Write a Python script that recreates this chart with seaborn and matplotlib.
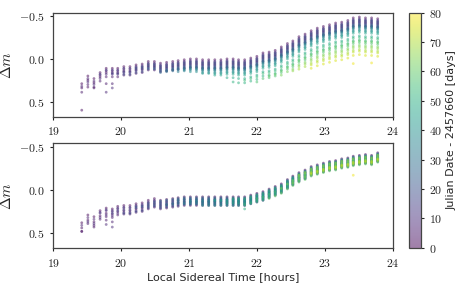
import matplotlib
matplotlib.use("Agg")
import matplotlib.pyplot as plt
import pandas as pd
import seaborn as sns

# LST columns [hours]
lst = [19.42, 19.51, 19.60, 19.69, 19.78, 19.87, 19.95, 20.04, 20.13, 20.22,
       20.31, 20.40, 20.49, 20.58, 20.67, 20.76, 20.84, 20.93, 21.02, 21.11,
       21.20, 21.29, 21.38, 21.47, 21.56, 21.65, 21.73, 21.82, 21.91, 22.00,
       22.09, 22.18, 22.27, 22.36, 22.45, 22.53, 22.62, 22.71, 22.80, 22.89,
       22.98, 23.07, 23.16, 23.25, 23.34, 23.42, 23.51, 23.60, 23.69, 23.78]

# upper edge of each column, raw magnitudes (top panel)
top_base = [0.29, 0.20, 0.23, 0.16, 0.11, 0.11, 0.11, 0.09, 0.09, 0.07,
            0.06, 0.03, 0.03, 0.05, 0.04, 0.03, 0.02, 0.01, 0.00, 0.00,
            0.01, 0.01, 0.01, 0.01, 0.00, 0.00, 0.01, 0.01, -0.01, -0.03,
            -0.07, -0.08, -0.10, -0.14, -0.18, -0.21, -0.26, -0.29, -0.33, -0.36,
            -0.38, -0.40, -0.42, -0.43, -0.45, -0.48, -0.49, -0.48, -0.48, -0.47]

# upper edge of each column after zero-point correction (bottom panel)
bot_base = [0.38, 0.29, 0.31, 0.24, 0.21, 0.22, 0.19, 0.18, 0.18, 0.16,
            0.15, 0.12, 0.10, 0.12, 0.11, 0.10, 0.09, 0.08, 0.08, 0.08,
            0.08, 0.08, 0.08, 0.08, 0.08, 0.08, 0.08, 0.08, 0.06, 0.04,
            0.02, -0.01, -0.04, -0.07, -0.12, -0.16, -0.20, -0.23, -0.27, -0.29,
            -0.31, -0.33, -0.34, -0.36, -0.37, -0.39, -0.40, -0.41, -0.40, -0.43]

# nights: day since JD 2457660, first LST observed, zero-point shift, residual
night_day = [1, 3, 5, 7, 9, 12, 15, 18, 21, 24, 27, 30, 33, 36,
             39, 42, 45, 48, 51, 54, 57, 60, 63, 66, 69, 72, 75]
night_start = [19.42, 19.42, 19.42, 19.42, 19.51, 19.69, 19.87, 20.04, 20.22, 20.40,
               20.58, 20.67, 20.84, 20.93, 21.02, 21.20, 21.38, 21.56, 21.65, 21.82,
               22.00, 22.18, 22.36, 22.53, 22.62, 22.80, 22.80]
night_shift = [0.00, 0.05, 0.10, 0.03, 0.07, 0.02, 0.06, 0.09, 0.04, 0.08,
               0.11, 0.10, 0.13, 0.12, 0.15, 0.16, 0.18, 0.22, 0.27, 0.24,
               0.30, 0.28, 0.33, 0.35, 0.38, 0.40, 0.44]
night_resid = [0.00, 0.06, 0.10, 0.03, 0.08, 0.02, 0.05, 0.09, 0.04, 0.07,
               0.01, 0.06, 0.03, 0.08, 0.05, 0.10, 0.04, 0.07, 0.02, 0.09,
               0.06, 0.11, 0.05, 0.08, 0.03, 0.09, 0.07]

# odd points that don't follow a night pattern
top_extra_lst = [19.42, 19.51, 19.60, 19.78, 19.78, 19.87, 19.87, 23.42, 23.69]
top_extra_dm = [0.60, 0.33, 0.34, 0.29, 0.39, 0.29, 0.34, 0.055, 0.047]
top_extra_day = [2, 3, 4, 5, 8, 6, 9, 78, 78]
bot_extra_lst = [19.42, 19.60, 19.78, 19.78, 19.87, 19.87, 23.42, 21.82]
bot_extra_dm = [0.48, 0.43, 0.35, 0.40, 0.37, 0.43, -0.17, 0.22]
bot_extra_day = [2, 4, 5, 8, 6, 9, 78, 50]

rows_top, rows_bot = [], []
for k, day in enumerate(night_day):
    for i, t in enumerate(lst):
        if t >= night_start[k] - 0.001:
            rows_top.append((t, top_base[i] + night_shift[k], day))
            rows_bot.append((t, bot_base[i] + night_resid[k], day))
rows_top += list(zip(top_extra_lst, top_extra_dm, top_extra_day))
rows_bot += list(zip(bot_extra_lst, bot_extra_dm, bot_extra_day))
df_top = pd.DataFrame(rows_top, columns=["lst", "dm", "day"])
df_bot = pd.DataFrame(rows_bot, columns=["lst", "dm", "day"])

sns.set_style("ticks")
plt.rcParams["font.family"] = ["DejaVu Sans"]
plt.rcParams["mathtext.fontset"] = "cm"
plt.rcParams["axes.edgecolor"] = "#444444"
plt.rcParams["axes.linewidth"] = 0.9

fig = plt.figure(figsize=(4.63, 2.9), dpi=100)
ax1 = fig.add_axes([0.115, 0.598, 0.733, 0.358])
ax2 = fig.add_axes([0.115, 0.144, 0.733, 0.362])
cax = fig.add_axes([0.883, 0.146, 0.026, 0.810])

for ax, d in [(ax1, df_top), (ax2, df_bot)]:
    sns.scatterplot(data=d, x="lst", y="dm", hue="day", palette="viridis",
                    hue_norm=(0, 80), s=4, alpha=0.5, linewidth=0,
                    legend=False, ax=ax)
    ax.set_xlim(19, 24)
    ax.set_ylim(0.675, -0.54)
    ax.set_xticks([19, 20, 21, 22, 23, 24],
                  labels=[f"${v}$" for v in [19, 20, 21, 22, 23, 24]])
    ax.set_yticks([-0.5, 0.0, 0.5], labels=[r"$-0.5$", r"$0.0$", r"$0.5$"])
    ax.tick_params(labelsize=8.5, length=2.5, width=0.8, colors="#222222")
    ax.set_ylabel(r"$\Delta m$", fontsize=11)
    ax.set_xlabel("")

ax2.set_xlabel("Local Sidereal Time [hours]", fontsize=8, labelpad=2)

sm = plt.cm.ScalarMappable(cmap="viridis", norm=plt.Normalize(0, 80))
cb = fig.colorbar(sm, cax=cax, alpha=0.5)
cb.set_ticks(range(0, 81, 10), labels=[f"${v}$" for v in range(0, 81, 10)])
cb.ax.tick_params(labelsize=8.5, length=2.5, width=0.8)
cb.set_label("Julian Date - 2457660 [days]", fontsize=8, labelpad=3)
cb.outline.set_edgecolor("#444444")

fig.savefig("out.png", dpi=100)
